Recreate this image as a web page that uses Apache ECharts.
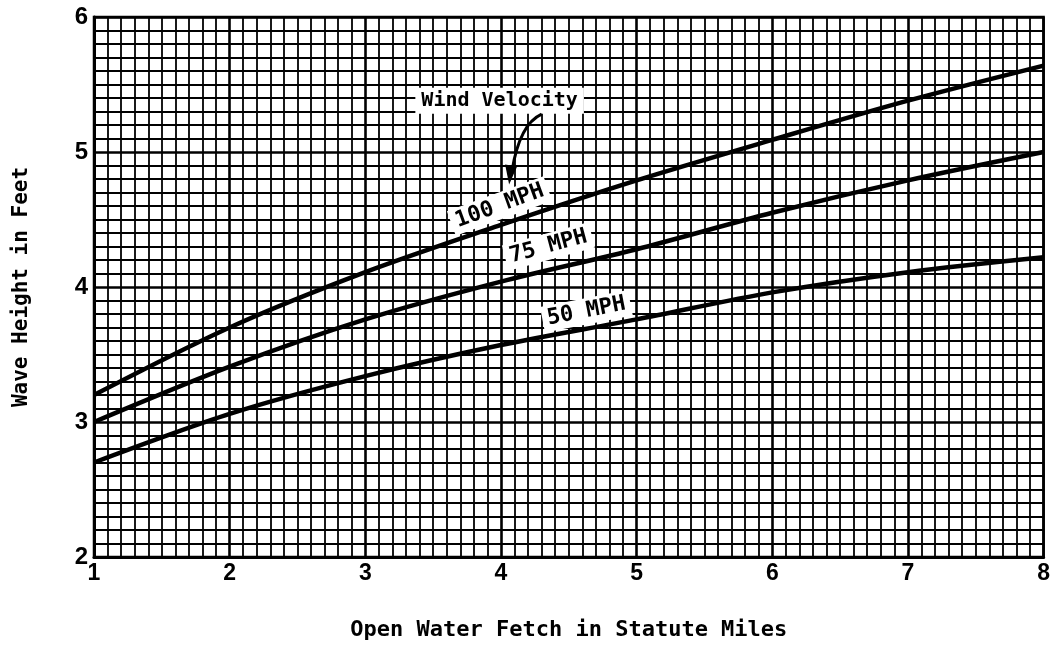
<!DOCTYPE html>
<html>
<head>
<meta charset="utf-8">
<script src="https://cdn.jsdelivr.net/npm/echarts@6/dist/echarts.min.js"></script>
<style>
  html, body { margin: 0; padding: 0; background: #fff; }
  #main { width: 1053px; height: 649px; }
</style>
</head>
<body>
<div id="main"></div>
<script>
// fetch in statute miles
const fetchMiles = [1, 2, 3, 4, 5, 6, 7, 8];
// wave height in feet, one array per wind velocity
const mph100 = [3.2, 3.7, 4.11, 4.46, 4.79, 5.09, 5.38, 5.64];
const mph75 = [3.0, 3.41, 3.76, 4.04, 4.28, 4.55, 4.79, 5.0];
const mph50 = [2.7, 3.06, 3.34, 3.57, 3.76, 3.96, 4.11, 4.22];

// curve labels: [text, x, y, angle in degrees]
const curveLabels = [
  ['100 MPH', 3.99, 4.6, 20],
  ['75 MPH', 4.35, 4.3, 15],
  ['50 MPH', 4.63, 3.82, 11]
];
const windLabel = ['Wind Velocity', 3.99, 5.38];
const arrowFrom = [4.3, 5.28];
const arrowTo = [4.06, 4.76];

const monoFont = '"DejaVu Sans Mono", monospace';

function pairs(ys) {
  return fetchMiles.map((x, i) => [x, ys[i]]);
}

function curve(name, ys) {
  return {
    name: name,
    type: 'line',
    data: pairs(ys),
    smooth: 0.3,
    showSymbol: false,
    lineStyle: { color: '#000', width: 4.5 },
    z: 5
  };
}

const chart = echarts.init(document.getElementById('main'));

chart.setOption({
  animation: false,
  backgroundColor: '#fff',
  grid: {
    left: 94, right: 6, top: 17, bottom: 92,
    show: true, borderColor: '#000', borderWidth: 2.5
  },
  xAxis: {
    type: 'value',
    min: 1, max: 8, interval: 1,
    name: 'Open Water Fetch in Statute Miles',
    nameLocation: 'middle',
    nameGap: 62,
    nameTextStyle: { fontFamily: monoFont, fontWeight: 'bold', fontSize: 22, color: '#000' },
    axisLine: { lineStyle: { color: '#000', width: 3 } },
    axisTick: { show: false },
    axisLabel: { fontFamily: 'Liberation Sans', fontWeight: 'bold', fontSize: 23, color: '#000', margin: 5 },
    splitLine: { lineStyle: { color: '#000', width: 2.6 } },
    minorTick: { show: false, splitNumber: 10 },
    minorSplitLine: { show: true, lineStyle: { color: '#000', width: 1.8 } }
  },
  yAxis: {
    type: 'value',
    min: 2, max: 6, interval: 1,
    name: 'Wave Height in Feet',
    nameLocation: 'middle',
    nameGap: 62,
    nameTextStyle: { fontFamily: monoFont, fontWeight: 'bold', fontSize: 21, color: '#000' },
    axisLine: { show: true, lineStyle: { color: '#000', width: 3 } },
    axisTick: { show: false },
    axisLabel: { fontFamily: 'Liberation Sans', fontWeight: 'bold', fontSize: 24, color: '#000', margin: 6 },
    splitLine: { lineStyle: { color: '#000', width: 2.6 } },
    minorTick: { show: false, splitNumber: 10 },
    minorSplitLine: { show: true, lineStyle: { color: '#000', width: 1.8 } }
  },
  series: [
    curve('100 MPH', mph100),
    curve('75 MPH', mph75),
    curve('50 MPH', mph50)
  ]
});

// annotations placed through the axes
function px(pt) {
  return chart.convertToPixel({ gridIndex: 0 }, pt);
}

const graphics = curveLabels.map(function (l) {
  const p = px([l[1], l[2]]);
  return {
    type: 'text',
    x: p[0], y: p[1],
    rotation: l[3] * Math.PI / 180,
    z: 20,
    style: {
      text: l[0],
      fill: '#000',
      font: 'bold 22px ' + monoFont,
      align: 'center',
      verticalAlign: 'middle',
      backgroundColor: '#fff',
      padding: [2, 5]
    }
  };
});

const wp = px([windLabel[1], windLabel[2]]);
graphics.push({
  type: 'text',
  x: wp[0], y: wp[1],
  z: 20,
  style: {
    text: windLabel[0],
    fill: '#000',
    font: 'bold 20px ' + monoFont,
    align: 'center',
    verticalAlign: 'middle',
    backgroundColor: '#fff',
    padding: [3, 6]
  }
});

const a0 = px(arrowFrom);
const a1 = px(arrowTo);
graphics.push({
  type: 'bezierCurve',
  z: 21,
  shape: {
    x1: a0[0], y1: a0[1],
    x2: a1[0] + 3, y2: a1[1] - 14,
    cpx1: a0[0] - 22, cpy1: a0[1] + 10
  },
  style: { stroke: '#000', lineWidth: 3, fill: null }
});
graphics.push({
  type: 'polygon',
  z: 21,
  shape: {
    points: [[a1[0], a1[1]], [a1[0] - 4, a1[1] - 20], [a1[0] + 8, a1[1] - 18]]
  },
  style: { fill: '#000' }
});

chart.setOption({ graphic: graphics });
</script>
</body>
</html>
